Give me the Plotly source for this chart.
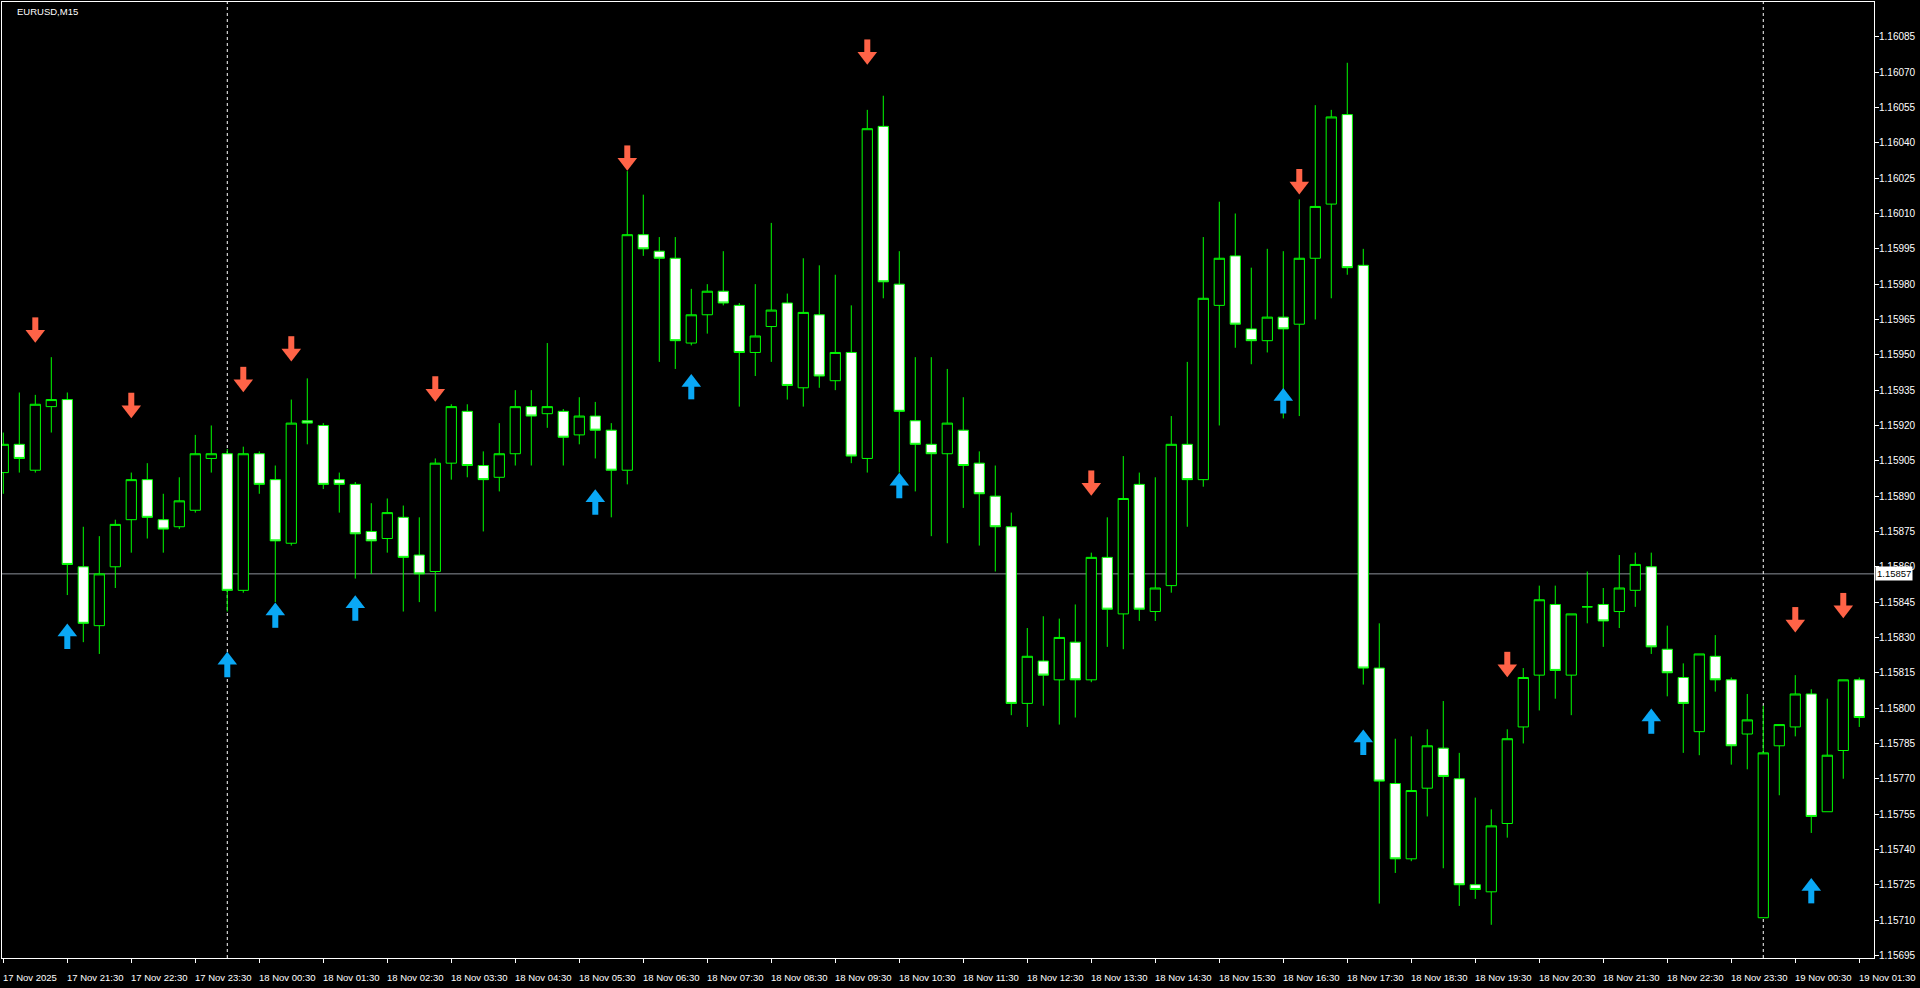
import plotly.graph_objects as go
import pandas as pd

# ---------------- data ----------------
chart_title = "EURUSD,M15"
start_time = "2025-11-17 20:30"

opens = [1.15900, 1.15912, 1.15901, 1.15928, 1.15931, 1.15860, 1.15835, 1.15860, 1.15880, 1.15897,
         1.15880, 1.15877, 1.15884, 1.15906, 1.15908, 1.15850, 1.15908, 1.15897, 1.15870, 1.15922,
         1.15920, 1.15897, 1.15895, 1.15875, 1.15872, 1.15881, 1.15865, 1.15858, 1.15904, 1.15926,
         1.15903, 1.15898, 1.15908, 1.15928, 1.15925, 1.15926, 1.15916, 1.15924, 1.15918, 1.15901,
         1.16001, 1.15994, 1.15991, 1.15955, 1.15967, 1.15977, 1.15971, 1.15951, 1.15962, 1.15972,
         1.15936, 1.15967, 1.15939, 1.15951, 1.15906, 1.16047, 1.15980, 1.15922, 1.15912, 1.15908,
         1.15918, 1.15904, 1.15890, 1.15877, 1.15802, 1.15820, 1.15812, 1.15828, 1.15812, 1.15864,
         1.15840, 1.15895, 1.15841, 1.15852, 1.15912, 1.15897, 1.15971, 1.15992, 1.15961, 1.15956,
         1.15966, 1.15963, 1.15991, 1.16014, 1.16052, 1.15988, 1.15817, 1.15768, 1.15736, 1.15766,
         1.15783, 1.15770, 1.15725, 1.15722, 1.15751, 1.15792, 1.15814, 1.15844, 1.15814, 1.15843,
         1.15844, 1.15841, 1.15850, 1.15860, 1.15825, 1.15813, 1.15790, 1.15822, 1.15812, 1.15789,
         1.15711, 1.15784, 1.15792, 1.15806, 1.15756, 1.15782, 1.15812]
highs = [1.15917, 1.15934, 1.15933, 1.15949, 1.15934, 1.15877, 1.15873, 1.15880, 1.15900, 1.15904,
         1.15891, 1.15898, 1.15916, 1.15920, 1.15910, 1.15911, 1.15909, 1.15903, 1.15931, 1.15940,
         1.15921, 1.15900, 1.15896, 1.15887, 1.15889, 1.15886, 1.15881, 1.15906, 1.15929, 1.15929,
         1.15909, 1.15921, 1.15935, 1.15935, 1.15955, 1.15927, 1.15932, 1.15930, 1.15921, 1.16028,
         1.16018, 1.16000, 1.16000, 1.15978, 1.15980, 1.15994, 1.15972, 1.15980, 1.16006, 1.15976,
         1.15991, 1.15988, 1.15984, 1.15971, 1.16054, 1.16060, 1.15994, 1.15949, 1.15949, 1.15944,
         1.15932, 1.15909, 1.15903, 1.15883, 1.15834, 1.15839, 1.15838, 1.15844, 1.15866, 1.15881,
         1.15907, 1.15900, 1.15898, 1.15924, 1.15947, 1.16000, 1.16015, 1.16010, 1.15987, 1.15995,
         1.15994, 1.16016, 1.16056, 1.16054, 1.16074, 1.15995, 1.15836, 1.15787, 1.15788, 1.15791,
         1.15803, 1.15781, 1.15762, 1.15757, 1.15791, 1.15817, 1.15852, 1.15852, 1.15840, 1.15858,
         1.15851, 1.15865, 1.15866, 1.15866, 1.15835, 1.15819, 1.15823, 1.15831, 1.15813, 1.15806,
         1.15801, 1.15793, 1.15814, 1.15808, 1.15804, 1.15812, 1.15813]
lows = [1.15891, 1.15900, 1.15900, 1.15917, 1.15848, 1.15828, 1.15823, 1.15851, 1.15866, 1.15872,
        1.15866, 1.15876, 1.15883, 1.15900, 1.15841, 1.15849, 1.15891, 1.15845, 1.15869, 1.15912,
        1.15893, 1.15883, 1.15855, 1.15857, 1.15866, 1.15841, 1.15845, 1.15841, 1.15897, 1.15898,
        1.15875, 1.15892, 1.15903, 1.15903, 1.15919, 1.15903, 1.15912, 1.15906, 1.15881, 1.15895,
        1.15992, 1.15947, 1.15944, 1.15954, 1.15959, 1.15971, 1.15928, 1.15941, 1.15947, 1.15931,
        1.15928, 1.15936, 1.15935, 1.15904, 1.15900, 1.15974, 1.15900, 1.15892, 1.15873, 1.15870,
        1.15885, 1.15869, 1.15858, 1.15797, 1.15792, 1.15801, 1.15793, 1.15796, 1.15811, 1.15826,
        1.15825, 1.15837, 1.15837, 1.15849, 1.15877, 1.15894, 1.15920, 1.15953, 1.15946, 1.15951,
        1.15923, 1.15924, 1.15965, 1.15974, 1.15984, 1.15810, 1.15717, 1.15730, 1.15735, 1.15754,
        1.15732, 1.15716, 1.15719, 1.15708, 1.15745, 1.15785, 1.15799, 1.15804, 1.15797, 1.15836,
        1.15826, 1.15834, 1.15843, 1.15823, 1.15805, 1.15781, 1.15780, 1.15807, 1.15776, 1.15774,
        1.15711, 1.15763, 1.15788, 1.15747, 1.15756, 1.15770, 1.15792]
closes = [1.15912, 1.15906, 1.15929, 1.15931, 1.15861, 1.15836, 1.15857, 1.15878, 1.15897, 1.15881,
          1.15876, 1.15888, 1.15908, 1.15908, 1.15850, 1.15908, 1.15895, 1.15871, 1.15921, 1.15921,
          1.15895, 1.15895, 1.15874, 1.15871, 1.15883, 1.15864, 1.15857, 1.15904, 1.15928, 1.15903,
          1.15897, 1.15908, 1.15928, 1.15924, 1.15928, 1.15915, 1.15924, 1.15918, 1.15901, 1.16001,
          1.15995, 1.15991, 1.15956, 1.15967, 1.15977, 1.15972, 1.15951, 1.15958, 1.15969, 1.15937,
          1.15968, 1.15941, 1.15951, 1.15907, 1.16046, 1.15981, 1.15926, 1.15912, 1.15908, 1.15921,
          1.15903, 1.15891, 1.15877, 1.15802, 1.15822, 1.15814, 1.15830, 1.15812, 1.15864, 1.15842,
          1.15889, 1.15842, 1.15851, 1.15912, 1.15897, 1.15974, 1.15991, 1.15963, 1.15956, 1.15966,
          1.15961, 1.15991, 1.16013, 1.16051, 1.15987, 1.15817, 1.15769, 1.15736, 1.15765, 1.15784,
          1.15771, 1.15725, 1.15723, 1.15750, 1.15787, 1.15813, 1.15846, 1.15816, 1.15840, 1.15843,
          1.15837, 1.15851, 1.15861, 1.15826, 1.15815, 1.15802, 1.15823, 1.15812, 1.15784, 1.15795,
          1.15781, 1.15793, 1.15806, 1.15754, 1.15780, 1.15812, 1.15796]

# signal arrows (bar index, price level at the arrow's centre)
sell_arrow_bars = [2, 8, 15, 18, 27, 39, 54, 68, 81, 94, 112, 115]
sell_arrow_prices = [1.15960, 1.15928, 1.15939, 1.15952, 1.15935, 1.16033, 1.16078, 1.15895,
                     1.16023, 1.15818, 1.15837, 1.15843]
buy_arrow_bars = [4, 14, 17, 22, 37, 43, 56, 80, 85, 103, 113]
buy_arrow_prices = [1.15831, 1.15819, 1.15840, 1.15843, 1.15888, 1.15937, 1.15895, 1.15931,
                    1.15786, 1.15795, 1.15723]

current_price = 1.15857
price_tick_values = [1.16085, 1.16070, 1.16055, 1.16040, 1.16025, 1.16010, 1.15995, 1.15980,
                     1.15965, 1.15950, 1.15935, 1.15920, 1.15905, 1.15890, 1.15875, 1.15860,
                     1.15845, 1.15830, 1.15815, 1.15800, 1.15785, 1.15770, 1.15755, 1.15740,
                     1.15725, 1.15710, 1.15695]
time_tick_labels = ["17 Nov 2025", "17 Nov 21:30", "17 Nov 22:30", "17 Nov 23:30",
                    "18 Nov 00:30", "18 Nov 01:30", "18 Nov 02:30", "18 Nov 03:30",
                    "18 Nov 04:30", "18 Nov 05:30", "18 Nov 06:30", "18 Nov 07:30",
                    "18 Nov 08:30", "18 Nov 09:30", "18 Nov 10:30", "18 Nov 11:30",
                    "18 Nov 12:30", "18 Nov 13:30", "18 Nov 14:30", "18 Nov 15:30",
                    "18 Nov 16:30", "18 Nov 17:30", "18 Nov 18:30", "18 Nov 19:30",
                    "18 Nov 20:30", "18 Nov 21:30", "18 Nov 22:30", "18 Nov 23:30",
                    "19 Nov 00:30", "19 Nov 01:30"]

# ---------------- derived ----------------
times = pd.date_range(start_time, periods=len(opens), freq="15min")
bars = list(range(len(opens)))
time_strings = [t.strftime("%d %b %H:%M") for t in times]
tick_bars = [0] + [time_strings.index(lbl) for lbl in time_tick_labels[1:]]
day_breaks = [i for i, t in enumerate(times) if t.hour == 0 and t.minute == 0]

FONT = "Liberation Sans"
W, H = 1920, 988
ML, MR, MT, MB = 2, 46, 2, 30
x_range = [-0.081, 116.92]
y_range = [1.156939, 1.160998]
px_per_price = (H - MT - MB) / (y_range[1] - y_range[0])

SELL_COL = "#FF6347"
BUY_COL = "#0AA8F5"

fig = go.Figure()

fig.add_trace(go.Candlestick(
    x=bars, open=opens, high=highs, low=lows, close=closes,
    increasing=dict(line=dict(color="#00FF00", width=1), fillcolor="#000000"),
    decreasing=dict(line=dict(color="#00FF00", width=1), fillcolor="#FFFFFF"),
    whiskerwidth=0, showlegend=False, hoverinfo="skip",
))

# arrows: stem (thick vertical line marker) + head (triangle marker)
head_off = 3.0 / px_per_price
stem_off = 5.5 / px_per_price
fig.add_trace(go.Scatter(
    x=sell_arrow_bars, y=[p + stem_off for p in sell_arrow_prices], mode="markers",
    marker=dict(symbol="line-ns", size=12, line=dict(color=SELL_COL, width=6)),
    showlegend=False, hoverinfo="skip"))
fig.add_trace(go.Scatter(
    x=sell_arrow_bars, y=[p - head_off for p in sell_arrow_prices], mode="markers",
    marker=dict(symbol="triangle-down", size=17, color=SELL_COL, line=dict(width=0)),
    showlegend=False, hoverinfo="skip"))
fig.add_trace(go.Scatter(
    x=buy_arrow_bars, y=[p - stem_off for p in buy_arrow_prices], mode="markers",
    marker=dict(symbol="line-ns", size=12, line=dict(color=BUY_COL, width=6)),
    showlegend=False, hoverinfo="skip"))
fig.add_trace(go.Scatter(
    x=buy_arrow_bars, y=[p + head_off for p in buy_arrow_prices], mode="markers",
    marker=dict(symbol="triangle-up", size=17, color=BUY_COL, line=dict(width=0)),
    showlegend=False, hoverinfo="skip"))

# current price line
fig.add_shape(type="line", xref="paper", x0=0, x1=1, yref="y", y0=current_price, y1=current_price,
              line=dict(color="#8C9099", width=1), layer="below")
# day separators
for b in day_breaks:
    fig.add_shape(type="line", xref="x", x0=b, x1=b, yref="paper", y0=0, y1=1,
                  line=dict(color="#FFFFFF", width=1, dash="3px,3px"), layer="below")

annotations = []
for b, lbl in zip(tick_bars, time_tick_labels):
    annotations.append(dict(x=b, xref="x", y=0, yref="paper", text=lbl, showarrow=False,
                            xanchor="left", yanchor="middle", yshift=-19, xshift=-2,
                            font=dict(color="#FFFFFF", size=9.5, family=FONT)))
annotations.append(dict(x=1, xref="paper", y=current_price, yref="y", text=f"{current_price:.5f}",
                        showarrow=False, xanchor="left", yanchor="middle", xshift=1,
                        bgcolor="#FFFFFF", borderpad=1,
                        font=dict(color="#000000", size=9.5, family=FONT)))
annotations.append(dict(x=(15 - ML) / (W - ML - MR), xref="paper", y=1 - (11 - MT) / (H - MT - MB),
                        yref="paper", text=chart_title, showarrow=False, xanchor="left",
                        yanchor="middle", font=dict(color="#FFFFFF", size=9.5, family=FONT)))

fig.update_layout(
    width=W, height=H,
    margin=dict(l=ML, r=MR, t=MT, b=MB, pad=0),
    paper_bgcolor="#000000", plot_bgcolor="#000000",
    boxgap=0.2, boxgroupgap=0.2,
    annotations=annotations,
    showlegend=False,
    xaxis=dict(range=x_range, showgrid=False, zeroline=False, rangeslider=dict(visible=False),
               tickvals=tick_bars, showticklabels=False, ticks="outside", ticklen=4,
               tickcolor="#FFFFFF", showline=True, linecolor="#FFFFFF", linewidth=1, mirror=True,
               fixedrange=True),
    yaxis=dict(range=y_range, side="right", showgrid=False, zeroline=False,
               tickvals=price_tick_values, ticktext=[f"{v:.5f}" for v in price_tick_values],
               ticks="outside", ticklen=4, tickcolor="#FFFFFF", ticklabelstandoff=-2,
               tickfont=dict(color="#FFFFFF", size=10, family=FONT),
               showline=True, linecolor="#FFFFFF", linewidth=1, mirror=True, fixedrange=True,
               automargin=False),
)

fig.write_html("out.html", config={"displayModeBar": False},
               post_script="document.body.style.margin='0px';document.body.style.overflow='hidden';")
